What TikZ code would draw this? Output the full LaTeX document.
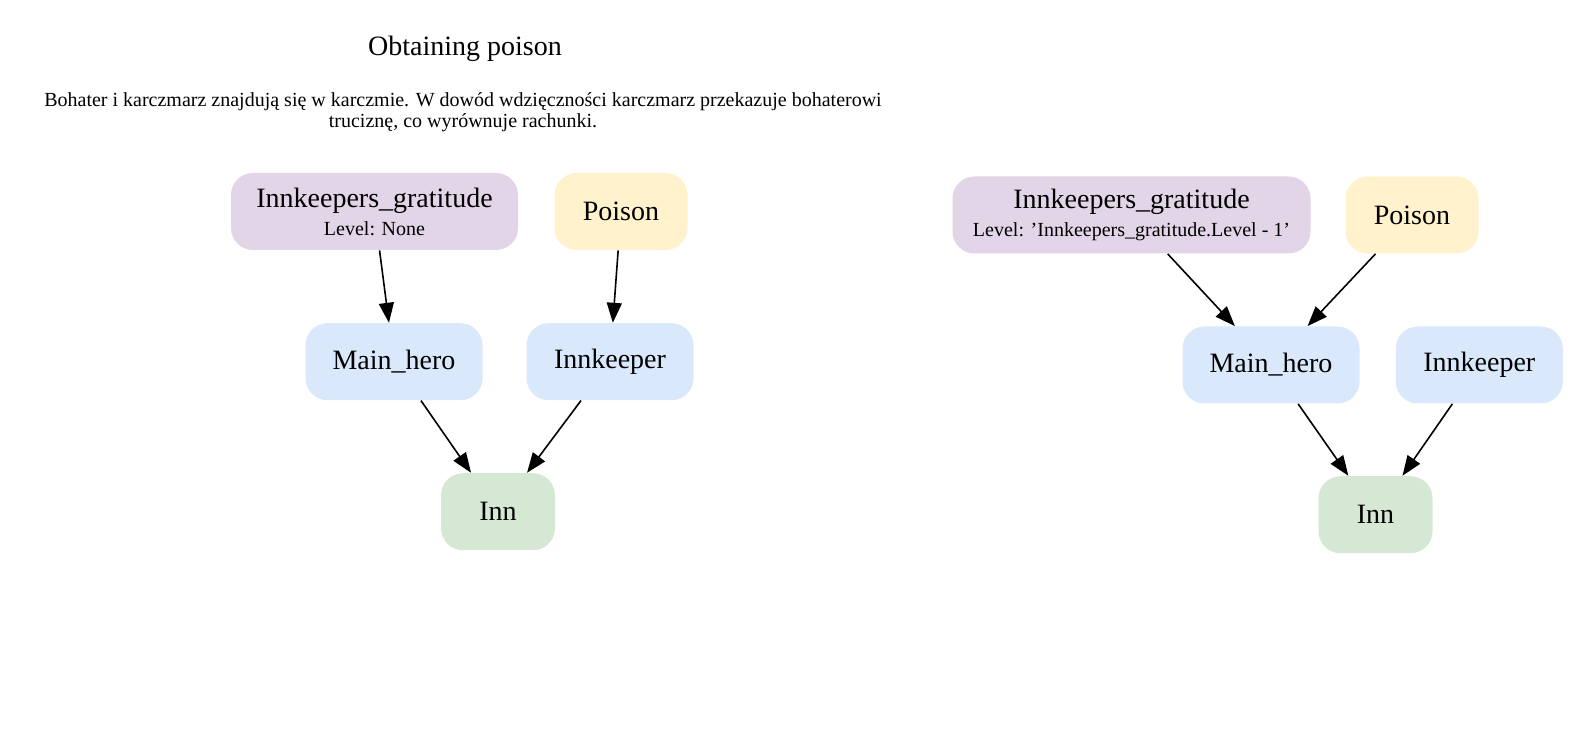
\documentclass[tikz,border=0pt]{standalone}
\usepackage{fontspec}
\setmainfont{Liberation Serif}
\usetikzlibrary{arrows.meta}
\definecolor{cpurple}{HTML}{E1D5E7}
\definecolor{cyellow}{HTML}{FFF2CC}
\definecolor{cblue}{HTML}{DAE8FC}
\definecolor{cgreen}{HTML}{D5E8D4}
\tikzset{
  box/.style={rectangle, rounded corners=11pt, inner sep=0pt, minimum height=38.5pt,
    align=center, font=\fontsize{14}{16}\selectfont},
  purplebox/.style={box, fill=cpurple},
  yellowbox/.style={box, fill=cyellow},
  bluebox/.style={box, fill=cblue},
  greenbox/.style={box, fill=cgreen},
  edge/.style={-{Triangle[length=10pt,width=7.5pt]}, line width=0.8pt, black},
  small/.style={font=\fontsize{10}{10.5}\selectfont}
}
\newcommand{\lvl}[1]{\\[-2pt]{\fontsize{10}{12}\selectfont #1}}
\newcommand{\sq}{{\char"0027}}
\begin{document}
\begin{tikzpicture}[x=0.5pt,y=-0.5pt]
\useasboundingbox (0,0) rectangle (1590,731);
% title
\node[font=\fontsize{14}{16}\selectfont] (title) at (465,49) {Obtaining poison};
\node[small, align=center] (sub) at (463,112.5) {Bohater i karczmarz znajdują się w karczmie. W dowód wdzięczności karczmarz przekazuje bohaterowi\\truciznę, co wyrównuje rachunki.};
% left graph
\node[purplebox, minimum width=143.5pt] (ig1) at (374.5,211.5) {Innkeepers\_gratitude\lvl{Level: None}};
\node[yellowbox, minimum width=66.5pt] (po1) at (621,211.5) {Poison};
\node[bluebox, minimum width=88.5pt] (mh1) at (394,361.7) {Main\_hero};
\node[bluebox, minimum width=83.5pt] (ik1) at (610,361.7) {Innkeeper};
\node[greenbox, minimum width=57pt] (inn1) at (498,511.7) {Inn};
\draw[edge] (ig1) -- (mh1);
\draw[edge] (po1) -- (ik1);
\draw[edge] (mh1) -- (inn1);
\draw[edge] (ik1) -- (inn1);
% right graph
\node[purplebox, minimum width=179pt] (ig2) at (1131.5,215) {Innkeepers\_gratitude\lvl{Level: \sq Innkeepers\_gratitude.Level - 1\sq}};
\node[yellowbox, minimum width=66.5pt] (po2) at (1412,215) {Poison};
\node[bluebox, minimum width=88.5pt] (mh2) at (1271,365) {Main\_hero};
\node[bluebox, minimum width=83.5pt] (ik2) at (1479.3,365) {Innkeeper};
\node[greenbox, minimum width=57pt] (inn2) at (1375.5,514.7) {Inn};
\draw[edge] (ig2) -- (mh2);
\draw[edge] (po2) -- (mh2);
\draw[edge] (mh2) -- (inn2);
\draw[edge] (ik2) -- (inn2);
\end{tikzpicture}
\end{document}
